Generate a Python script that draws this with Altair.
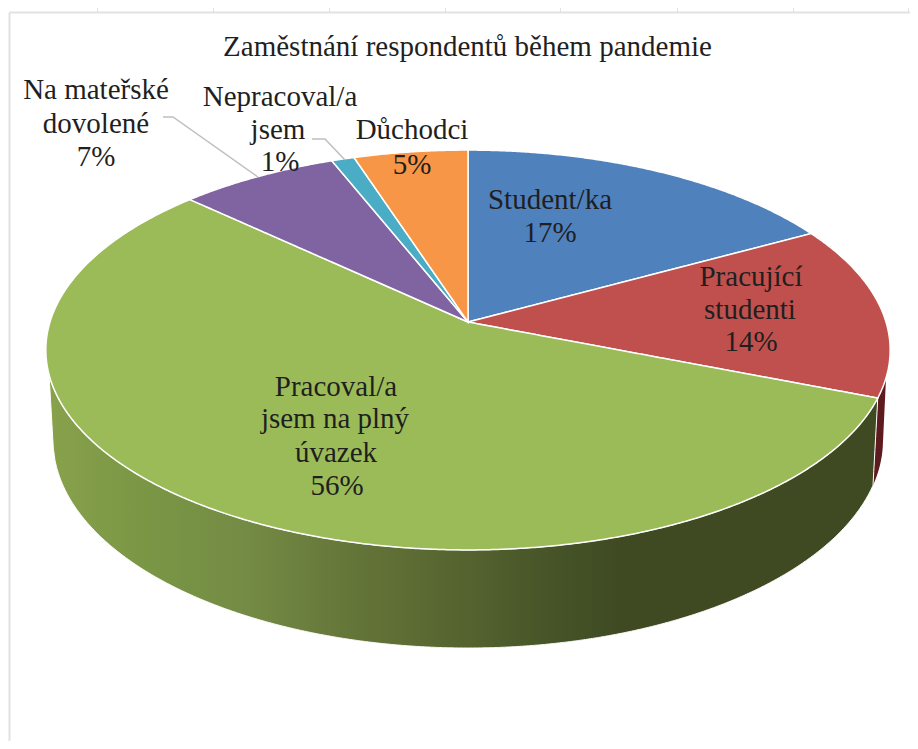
import numpy as np
import pandas as pd
import altair as alt

TITLE = "Zaměstnání respondentů během pandemie"
CATEGORIES = ["Student/ka", "Pracující studenti", "Pracoval/a jsem na plný úvazek",
              "Na mateřské dovolené", "Nepracoval/a jsem", "Důchodci"]
SHARES = [17, 14, 56, 7, 1, 5]
COLORS = ["#4f81bd", "#c0504d", "#9bbb59", "#8064a2", "#4bacc6", "#f79646"]
LABEL_LINES = ["Student/ka", "17%", "Pracující", "studenti", "14%", "Pracoval/a", "jsem na plný",
               "úvazek", "56%", "Na mateřské", "dovolené", "7%", "Nepracoval/a", "jsem", "1%",
               "Důchodci", "5%"]

# layout (page pixels)
LABEL_X = [550, 550, 751, 750, 751, 336, 335, 336, 337, 96, 96, 96, 280, 278, 280, 412, 412]
LABEL_Y = [200, 233, 277, 310, 342, 386.5, 419, 453, 486, 90, 124, 157, 97, 130, 162, 130, 165]
TITLE_X, TITLE_Y = 467.5, 46.5
CX, CY, A, B, K = 468.0, 322.0, 418.0, 196.0, 0.14
BOT_CY, BOT_RX, BOT_RY = 440.0, 415.0, 208.0
XT = [96.7, 212.7, 328.5, 444.5, 560, 676.7, 792.7, 908]
W, H = 901, 729
X_DOM, Y_DOM = [9, 9 + W], [12 + H, 12]
FONT = "Liberation Serif"
FS = 29


def rim(deg):
    t = np.radians(np.asarray(deg, dtype=float))
    u, v = np.sin(t), np.cos(t)
    d = 1 + K * v
    return CX + A * u / d, CY - B * v / d


def bottom(x):
    x = np.asarray(x, dtype=float)
    return BOT_CY + BOT_RY * np.sqrt(np.clip(1 - ((x - CX) / BOT_RX) ** 2, 0, 1))


def polygon_area(px, py, name):
    """Turn an outline into the x / y / y2 columns of an area."""
    px, py = np.asarray(px), np.asarray(py)
    xs = np.unique(np.round(px, 2))
    qx, qy = np.roll(px, -1), np.roll(py, -1)
    rows = []
    for x in xs:
        lo, hi = np.minimum(px, qx), np.maximum(px, qx)
        m = (lo <= x + 0.006) & (hi >= x - 0.006)
        dx = qx[m] - px[m]
        tt = np.where(np.abs(dx) > 1e-9, (x - px[m]) / np.where(np.abs(dx) > 1e-9, dx, 1), 0)
        ys = np.concatenate([py[m] + np.clip(tt, 0, 1) * (qy[m] - py[m]),
                             py[m][np.abs(dx) <= 1e-9], qy[m][np.abs(dx) <= 1e-9]])
        rows.append({"name": name, "x": float(x), "y": float(ys.min()), "y2": float(ys.max())})
    return rows


# top face
edges = np.cumsum([0] + SHARES) / sum(SHARES) * 360
top_rows = []
for i, cat in enumerate(CATEGORIES):
    th = np.linspace(edges[i], edges[i + 1], max(int((edges[i + 1] - edges[i]) * 3), 8))
    rx, ry = rim(th)
    top_rows += polygon_area(np.r_[CX, rx], np.r_[CY, ry], cat)
top_df = pd.DataFrame(top_rows)

# side walls
green_end = edges[2]
SIL_L, SIL_R = 255.0, 105.9
th = np.linspace(green_end, SIL_L, 500)
rx, ry = rim(th)
bx = np.linspace(CX - BOT_RX + 0.3, 873, 500)
green_wall = pd.DataFrame(polygon_area(np.r_[rx, bx], np.r_[ry, bottom(bx)], "green"))

th2 = np.linspace(SIL_R, green_end, 40)
rx2, ry2 = rim(th2)
bx2 = np.linspace(873, CX + BOT_RX - 0.3, 40)
red_wall = pd.DataFrame(polygon_area(np.r_[rx2, bx2], np.r_[ry2, bottom(bx2)], "red"))

x_enc = alt.X("x:Q", scale=alt.Scale(domain=X_DOM, nice=False, zero=False),
              axis=alt.Axis(orient="top", values=XT, labels=False, title=None, grid=False,
                            domainColor="#e2e2e2", domainWidth=2, tickColor="#e2e2e2",
                            tickWidth=1, tickSize=5))
y_enc = alt.Y("y:Q", scale=alt.Scale(domain=Y_DOM, nice=False, zero=False),
              axis=alt.Axis(orient="left", labels=False, ticks=False, title=None, grid=False,
                            domainColor="#e2e2e2", domainWidth=2))

gradient = alt.Gradient(
    gradient="linear", x1=0, x2=1, y1=0, y2=0,
    stops=[alt.GradientStop(offset=0.0, color="#88a14b"),
           alt.GradientStop(offset=0.124, color="#799645"),
           alt.GradientStop(offset=0.245, color="#738a44"),
           alt.GradientStop(offset=0.353, color="#66773a"),
           alt.GradientStop(offset=0.498, color="#55642f"),
           alt.GradientStop(offset=0.607, color="#465428"),
           alt.GradientStop(offset=0.69, color="#3f4a22"),
           alt.GradientStop(offset=1.0, color="#3f4a22")])

red_layer = alt.Chart(red_wall).mark_area(color="#5e1b1f").encode(x=x_enc, y=y_enc, y2="y2:Q")
green_layer = alt.Chart(green_wall).mark_area(color=gradient, stroke="#ffffff", strokeWidth=1).encode(
    x=x_enc, y=y_enc, y2="y2:Q")
top_layer = alt.Chart(top_df).mark_area(stroke="#ffffff", strokeWidth=1.5).encode(
    x=x_enc, y=y_enc, y2="y2:Q",
    color=alt.Color("name:N", scale=alt.Scale(domain=CATEGORIES, range=COLORS), legend=None))

# leader lines
leaders = pd.DataFrame({
    "id": ["a", "a", "a", "b", "b", "b"],
    "i": [0, 1, 2, 0, 1, 2],
    "x": [163, 173, 258, 312, 325, 345],
    "y": [117, 117, 177, 139, 139, 160]})
leader_layer = alt.Chart(leaders).mark_line(color="#bfbfbf", strokeWidth=1.5).encode(
    x=x_enc, y=y_enc, detail="id:N", order="i:Q")

labels = pd.DataFrame({"t": LABEL_LINES + [TITLE],
                       "x": LABEL_X + [TITLE_X],
                       "y": LABEL_Y + [TITLE_Y]})
text_layer = alt.Chart(labels).mark_text(font=FONT, fontSize=FS, color="#1f1f1f", align="center",
                                         baseline="middle").encode(x=x_enc, y=y_enc, text="t:N")

chart = alt.layer(red_layer, green_layer, top_layer, leader_layer, text_layer).properties(
    width=W, height=H,
    padding={"left": 1, "top": 4, "right": 0, "bottom": 0},
    autosize=alt.AutoSizeParams(type="none"),
).configure_view(stroke=None)

chart.save("out.html", embed_options={"renderer": "svg", "actions": False})
